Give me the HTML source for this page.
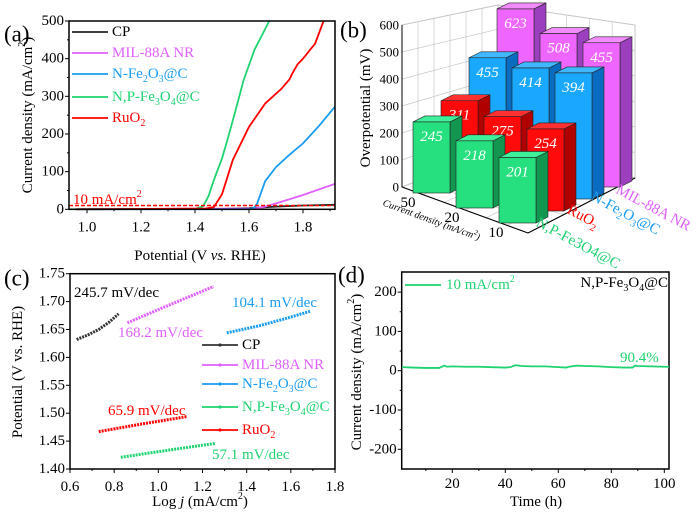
<!DOCTYPE html>
<html><head><meta charset="utf-8"><style>
html,body{margin:0;padding:0;background:#fff}
svg{display:block;font-family:"Liberation Serif",serif}
</style></head><body>
<svg id="fig" width="700" height="514" viewBox="0 0 700 514" xmlns="http://www.w3.org/2000/svg">
<g id="pa"></g>
<g id="pb"></g>
<g id="pc"></g>
<g id="pd"></g>
</svg>
<script>
// ---------- Panel (a) data ----------
const aCP = [[0.96,0],[1.5,1],[1.6,3],[1.7,7],[1.8,10],[1.92,12]];
const aMIL = [[0.96,0],[1.62,2],[1.66,7],[1.72,20],[1.8,38],[1.92,68]];
const aNFe = [[0.96,0],[1.60,0],[1.62,5],[1.63,15],[1.66,75],[1.70,112],[1.75,145],[1.80,175],[1.86,222],[1.92,274]];
const aNPFe = [[0.93,0],[1.40,1],[1.43,8],[1.45,35],[1.47,78],[1.50,135],[1.52,184],[1.55,262],[1.58,343],[1.62,423],[1.675,500]];
const aRuO2 = [[0.96,0],[1.44,2],[1.47,6],[1.50,40],[1.54,131],[1.60,219],[1.66,281],[1.72,320],[1.75,345],[1.76,360],[1.78,385],[1.80,400],[1.845,440],[1.876,500]];
const aXTicks = [1.0,1.2,1.4,1.6,1.8];
const aYTicks = [0,100,200,300,400,500];
// ---------- Panel (b) data ----------
const bRows = ["50","20","10"];
const bSeries = ["N,P-Fe3O4@C","RuO2","N-Fe2O3@C","MIL-88A NR"];
const bNPFe = [245,218,201];
const bRuO2 = [311,275,254];
const bNFe = [455,414,394];
const bMIL = [623,508,455];
const bZTicks = [0,100,200,300,400,500,600];
// ---------- Panel (c) data ----------
const cCP = [[0.63,1.632],[0.68,1.640],[0.73,1.650],[0.78,1.664],[0.82,1.678]];
const cMIL = [[0.86,1.662],[1.05,1.694],[1.25,1.727]];
const cNFe = [[1.31,1.644],[1.45,1.656],[1.58,1.670],[1.69,1.683]];
const cNPFe = [[0.83,1.421],[1.05,1.434],[1.26,1.446]];
const cRuO2 = [[0.73,1.467],[0.93,1.481],[1.13,1.494]];
const cXTicks = [0.6,0.8,1.0,1.2,1.4,1.6,1.8];
const cYTicks = [1.40,1.45,1.50,1.55,1.60,1.65,1.70,1.75];
// ---------- Panel (d) data ----------
const dTime = [1,5,10,15,16,17,18,20,25,30,35,40,42,43,44,46,50,55,60,63,64,66,67,70,75,80,85,88,89,90,95,100,101.8];
const dJ = [9,8,7,7,10,13,10,11,10,10,9,8,9,12,14,12,11,11,9,8,10,12,13,12,11,9,8,8,13,12,11,10,10];
const dXTicks = [20,40,60,80,100];
const dYTicks = [-200,-100,0,100,200];

const NS = "http://www.w3.org/2000/svg";
function mk(parent, tag, attrs, text){
  const e = document.createElementNS(NS, tag);
  for (const k in attrs) e.setAttribute(k, attrs[k]);
  if (text !== undefined) e.textContent = text;
  parent.appendChild(e);
  return e;
}
function txt(parent, x, y, s, opt){
  opt = opt || {};
  const e = mk(parent, "text", {x:x, y:y, "font-size":opt.size||15, fill:opt.fill||"#000", "text-anchor":opt.anchor||"start", "dominant-baseline":"central"});
  if (opt.rot !== undefined) e.setAttribute("transform", "rotate("+opt.rot+" "+x+" "+y+")");
  if (opt.italic) e.setAttribute("font-style","italic");
  e.innerHTML = s;
  return e;
}
function axesBox(g, L, T, R, B){
  mk(g, "rect", {x:L, y:T, width:R-L, height:B-T, fill:"none", stroke:"#000", "stroke-width":1.5});
}

// ================= Panel A =================
(function(){
  const g = document.getElementById("pa");
  const L=69, R=335, T=21, B=209.3;
  const xs = v => 87 + (v-1.0)*270;
  const ys = v => B - (v/500)*(B-T);
  const plot = mk(g,"g",{});
  
  
  const clip = mk(g,"clipPath",{id:"clipa"}); mk(clip,"rect",{x:L,y:T-1,width:R-L,height:B-T+2});
  plot.setAttribute("clip-path","url(#clipa)");
  const series = [[aCP,"#222","cp"],[aMIL,"#e060ff","mil-88a-nr"],[aNFe,"#1a9cf0","n-fe2o3-c"],[aNPFe,"#1fd370","np-fe3o4-c"],[aRuO2,"#ff0000","ruo2"]];
  series.forEach(s=>{
    const p = mk(plot,"polyline",{points:s[0].map(d=>xs(d[0])+","+ys(d[1])).join(" "),fill:"none",stroke:s[1],"stroke-width":1.8});
    
    
  });
  const ref = mk(plot,"line",{x1:L,x2:R,y1:ys(10),y2:ys(10),stroke:"#ff0000","stroke-width":1.5,"stroke-dasharray":"4,2"});
  
  
  axesBox(g,L,T,R,B);
  aXTicks.forEach(v=>{ mk(g,"line",{x1:xs(v),x2:xs(v),y1:B,y2:B+4,stroke:"#000"}); txt(g,xs(v),B+18,v.toFixed(1),{anchor:"middle"}); });
  [1.1,1.3,1.5,1.7,1.9].forEach(v=>mk(g,"line",{x1:xs(v),x2:xs(v),y1:B,y2:B+2,stroke:"#000"}));
  aYTicks.forEach(v=>{ mk(g,"line",{x1:L-4,x2:L,y1:ys(v),y2:ys(v),stroke:"#000"}); txt(g,L-5,ys(v),String(v),{anchor:"end"}); });
  [50,150,250,350,450].forEach(v=>mk(g,"line",{x1:L-2,x2:L,y1:ys(v),y2:ys(v),stroke:"#000"}));
  const yl = txt(g,28,115,"Current density (mA/cm<tspan baseline-shift='super' font-size='10'>2</tspan>)",{anchor:"middle",rot:-90,size:15});
  
  const xl = txt(g,200,256,"Potential (V <tspan font-style='italic'>vs.</tspan> RHE)",{anchor:"middle",size:15});
  
  txt(g,73,200,"10 mA/cm<tspan baseline-shift='super' font-size='10'>2</tspan>",{fill:"#ff0000",size:15});
  const leg = [["CP","#222",32],["MIL-88A NR","#e060ff",53],["N-Fe<tspan baseline-shift='sub' font-size='10'>2</tspan>O<tspan baseline-shift='sub' font-size='10'>3</tspan>@C","#1a9cf0",74],["N,P-Fe<tspan baseline-shift='sub' font-size='10'>3</tspan>O<tspan baseline-shift='sub' font-size='10'>4</tspan>@C","#1fd370",97],["RuO<tspan baseline-shift='sub' font-size='10'>2</tspan>","#ff0000",118]];
  leg.forEach(l=>{
    const e = mk(g,"g",{});
    
    
    mk(e,"line",{x1:72,x2:108,y1:l[2],y2:l[2],stroke:l[1],"stroke-width":1.8});
    txt(e,112,l[2],l[0],{fill:l[1]==="#222"?"#000":l[1],size:15});
  });
  txt(g,4,34,"(a)",{size:23});
})();

// ================= Panel B =================
(function(){
  const g = document.getElementById("pb");
  const gc = "#c8c8c8";
  const wall = mk(g,"g",{});
  
  
  mk(wall,"polygon",{points:"402,187 402,25 498,5 498,150",fill:"#fff",stroke:gc});
  mk(wall,"polygon",{points:"498,150 498,5 635,25 635,178",fill:"#fff",stroke:gc});
  mk(wall,"polygon",{points:"402,187 528,233 635,178 498,150",fill:"#fff",stroke:gc});
  for(let k=1;k<6;k++){
    const f=k/6;
    mk(wall,"line",{x1:402+96*f,y1:187-37*f,x2:402+96*f,y2:25-20*f,stroke:gc,"stroke-width":0.7});
    mk(wall,"line",{x1:498+137*f,y1:150+28*f,x2:498+137*f,y2:5+20*f,stroke:gc,"stroke-width":0.7});
    mk(wall,"line",{x1:402+126*f,y1:187+46*f,x2:498+137*f,y2:150+28*f,stroke:gc,"stroke-width":0.7});
    mk(wall,"line",{x1:402+96*f,y1:187-37*f,x2:528+107*f,y2:233-55*f,stroke:gc,"stroke-width":0.7});
  }
  bZTicks.forEach(v=>{
    const f=v/600;
    mk(wall,"line",{x1:402,y1:187-162*f,x2:498,y2:150-145*f,stroke:gc,"stroke-width":0.7});
    mk(wall,"line",{x1:498,y1:150-145*f,x2:635,y2:178-153*f,stroke:gc,"stroke-width":0.7});
    txt(g,399,187-162*f,String(v),{anchor:"end",size:13});
  });
  mk(g,"line",{x1:402,y1:187,x2:402,y2:25,stroke:"#000"});
  mk(g,"line",{x1:402,y1:187,x2:528,y2:233,stroke:"#000"});
  mk(g,"line",{x1:528,y1:233,x2:635,y2:178,stroke:"#000"});
  const yl=txt(g,366,108,"Overpotential (mV)",{anchor:"middle",rot:-90,size:15});
  
  const vals=[bNPFe,bRuO2,bNFe,bMIL];
  const cols=[["#26e07f","#139650","#3ff09a"],["#ff0a0a","#b00000","#ff3030"],["#1aa8ff","#0a6cc0","#40b8ff"],["#ee66ff","#9c3fbf","#f38cff"]];
  const bars=mk(g,"g",{});
  for(let j=3;j>=0;j--){
    for(let i=0;i<3;i++){
      const v=vals[j][i];
      const bx=413+i*43+j*28, by=193+i*15-j*(3+4.5*i);
      const s=0.29+0.018*i-0.003*j;
      const h=v*s, w=37, dx=12, dy=-6;
      const bg=mk(bars,"g",{});
      
      
      const top=by-h;
      mk(bg,"polygon",{points:`${bx+w},${by} ${bx+w+dx},${by+dy} ${bx+w+dx},${top+dy} ${bx+w},${top}`,fill:cols[j][1],stroke:"#222","stroke-width":0.6});
      mk(bg,"polygon",{points:`${bx},${top} ${bx+w},${top} ${bx+w+dx},${top+dy} ${bx+dx},${top+dy}`,fill:cols[j][2],stroke:"#222","stroke-width":0.6});
      mk(bg,"rect",{x:bx,y:top,width:w,height:h,fill:cols[j][0],stroke:"#222","stroke-width":0.6});
      txt(bg,bx+w/2,top+15,String(v),{anchor:"middle",fill:"#fff",italic:true,size:15});
    }
  }
  bRows.forEach((r,i)=>txt(g,408+i*44,203+i*15,r,{anchor:"middle",size:15}));
  const cl=txt(g,383,203,"Current density (mA/cm<tspan baseline-shift='super' font-size='7'>2</tspan>)",{size:10,italic:true,rot:20});
  
  const sl=[["N,P-Fe3O4@C","#1fd370",537,222],["RuO<tspan baseline-shift='sub' font-size='10'>2</tspan>","#ff0000",568,209],["N-Fe<tspan baseline-shift='sub' font-size='10'>2</tspan>O<tspan baseline-shift='sub' font-size='10'>3</tspan>@C","#1a9cf0",592,196],["MIL-88A NR","#e060ff",617,189]];
  sl.forEach(l=>{
    const t=txt(g,l[2],l[3],l[0],{fill:l[1],size:15,rot:28});
    
  });
  txt(g,340,30,"(b)",{size:23});
})();

// ================= Panel C =================
(function(){
  const g=document.getElementById("pc");
  const L=70,R=335,T=273.7,B=469;
  const xs=v=>L+(v-0.6)/1.2*(R-L);
  const ys=v=>B-(v-1.40)/0.35*(B-T);
  axesBox(g,L,T,R,B);
  const series=[[cCP,"#333","cp"],[cMIL,"#e060ff","mil-88a-nr"],[cNFe,"#1a9cf0","n-fe2o3-c"],[cNPFe,"#1fd370","np-fe3o4-c"],[cRuO2,"#ff0000","ruo2"]];
  series.forEach(s=>{
    const p=mk(g,"polyline",{points:s[0].map(d=>xs(d[0])+","+ys(d[1])).join(" "),fill:"none",stroke:s[1],"stroke-width":3,"stroke-dasharray":"2,1"});
    
    
  });
  cXTicks.forEach(v=>{ mk(g,"line",{x1:xs(v),x2:xs(v),y1:B,y2:B+4,stroke:"#000"}); txt(g,xs(v),B+18,v.toFixed(1),{anchor:"middle"}); });
  [0.7,0.9,1.1,1.3,1.5,1.7].forEach(v=>mk(g,"line",{x1:xs(v),x2:xs(v),y1:B,y2:B+2,stroke:"#000"}));
  cYTicks.forEach(v=>{ mk(g,"line",{x1:L-4,x2:L,y1:ys(v),y2:ys(v),stroke:"#000"}); txt(g,L-5,ys(v),v.toFixed(2),{anchor:"end"}); });
  const yl=txt(g,18,372,"Potential (V vs. RHE)",{anchor:"middle",rot:-90,size:15});
  
  const xl=txt(g,200,502,"Log <tspan font-style='italic'>j</tspan> (mA/cm<tspan baseline-shift='super' font-size='10'>2</tspan>)",{anchor:"middle",size:15});
  
  txt(g,74,293,"245.7 mV/dec",{size:15});
  txt(g,118,333,"168.2 mV/dec",{size:15,fill:"#e060ff"});
  txt(g,232,303,"104.1 mV/dec",{size:15,fill:"#1a9cf0"});
  txt(g,108,411,"65.9 mV/dec",{size:15,fill:"#ff0000"});
  txt(g,212,455,"57.1 mV/dec",{size:15,fill:"#1fd370"});
  const leg=[["CP","#333",345],["MIL-88A NR","#e060ff",365],["N-Fe<tspan baseline-shift='sub' font-size='10'>2</tspan>O<tspan baseline-shift='sub' font-size='10'>3</tspan>@C","#1a9cf0",384],["N,P-Fe<tspan baseline-shift='sub' font-size='10'>3</tspan>O<tspan baseline-shift='sub' font-size='10'>4</tspan>@C","#1fd370",407],["RuO<tspan baseline-shift='sub' font-size='10'>2</tspan>","#ff0000",430]];
  leg.forEach(l=>{
    const e=mk(g,"g",{});
    
    
    mk(e,"line",{x1:202,x2:238,y1:l[2],y2:l[2],stroke:l[1],"stroke-width":1.8});
    mk(e,"circle",{cx:220,cy:l[2],r:1.6,fill:l[1]});
    txt(e,242,l[2],l[0],{fill:l[1]==="#333"?"#000":l[1],size:15});
  });
  txt(g,4,278,"(c)",{size:23});
})();

// ================= Panel D =================
(function(){
  const g=document.getElementById("pd");
  const L=401.7,R=669,T=272,B=469;
  const xs=v=>452.3+(v-20)*2.65;
  const ys=v=>370.7-v*0.393;
  axesBox(g,L,T,R,B);
  const p=mk(g,"polyline",{points:dTime.map((t,k)=>xs(t)+","+ys(dJ[k])).join(" "),fill:"none",stroke:"#1fd370","stroke-width":1.8});
  
  
  dXTicks.forEach(v=>{ mk(g,"line",{x1:xs(v),x2:xs(v),y1:B,y2:B+4,stroke:"#000"}); txt(g,xs(v),B+15,String(v),{anchor:"middle"}); });
  [10,30,50,70,90].forEach(v=>mk(g,"line",{x1:xs(v),x2:xs(v),y1:B,y2:B+2,stroke:"#000"}));
  dYTicks.forEach(v=>{ mk(g,"line",{x1:L-4,x2:L,y1:ys(v),y2:ys(v),stroke:"#000"}); txt(g,L-5,ys(v),String(v),{anchor:"end"}); });
  [-150,-50,50,150].forEach(v=>mk(g,"line",{x1:L-2,x2:L,y1:ys(v),y2:ys(v),stroke:"#000"}));
  const yl=txt(g,357,372,"Current density (mA/cm<tspan baseline-shift='super' font-size='10'>2</tspan>)",{anchor:"middle",rot:-90,size:15});
  
  const xl=txt(g,536,502,"Time (h)",{anchor:"middle",size:15});
  
  const e=mk(g,"g",{});
  
  
  mk(e,"line",{x1:405,x2:441,y1:285,y2:285,stroke:"#1fd370","stroke-width":1.8});
  txt(e,446,285,"10 mA/cm<tspan baseline-shift='super' font-size='10'>2</tspan>",{fill:"#1fd370",size:15});
  txt(g,668,283,"N,P-Fe<tspan baseline-shift='sub' font-size='10'>3</tspan>O<tspan baseline-shift='sub' font-size='10'>4</tspan>@C",{anchor:"end",size:15});
  txt(g,620,358,"90.4%",{fill:"#1fd370",size:15});
  txt(g,338,275,"(d)",{size:23});
})();
</script>
</body></html>
